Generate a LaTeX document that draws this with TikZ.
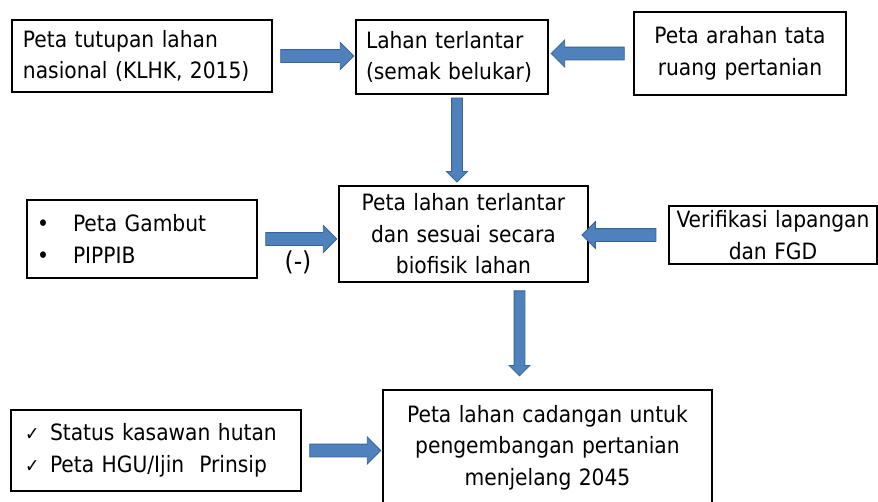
\documentclass[tikz,border=0pt]{standalone}
\usepackage{fontspec}
\setmainfont{DejaVu Sans Condensed}
\usetikzlibrary{positioning,shapes.arrows}
\definecolor{panahisi}{HTML}{4F81BD}
\definecolor{panahtepi}{HTML}{3A6494}
\tikzset{
	kotak/.style={draw=black,line width=1.6pt,fill=white,inner sep=0pt,font=\fontsize{22.5}{31.5}\selectfont},
	teks/.style={inner sep=0pt,font=\fontsize{26}{30}\selectfont},
	panah/.style={single arrow,draw=panahtepi,fill=panahisi,line width=0.8pt,inner xsep=0pt,inner ysep=6pt,single arrow head extend=7pt,minimum height=73pt},
	panahtegak/.style={panah,inner ysep=5pt,single arrow head extend=5pt,minimum height=84pt,rotate=-90},
}
\begin{document}
\begin{tikzpicture}[x=1pt,y=-1pt]
		\useasboundingbox (0,0) rectangle (878,501);
		\node[kotak,minimum width=260pt,minimum height=72pt,text width=238pt,align=left] (tutupan) at (142,56) {Peta tutupan lahan\\nasional (KLHK, 2015)};
		\node[kotak,minimum width=192pt,minimum height=74pt,text width=172pt,align=left] (terlantar) at (452,57) {Lahan terlantar\\(semak belukar)};
		\node[kotak,minimum width=212pt,minimum height=83pt,text width=190pt,align=center] (arahan) at (740,53.5) {Peta arahan tata\\ruang pertanian};
		\node[kotak,minimum width=230pt,minimum height=78pt,text width=210pt,align=left] (gambut) at (142,239) {\makebox[36pt][l]{\textbullet}Peta Gambut\\\makebox[36pt][l]{\textbullet}PIPPIB};
		\node[kotak,minimum width=249pt,minimum height=96pt,text width=240pt,align=center] (biofisik) at (463.5,234) {Peta lahan terlantar\\dan sesuai secara\\biofisik lahan};
		\node[kotak,minimum width=208pt,minimum height=58pt,text width=200pt,align=center] (verifikasi) at (773,235) {Verifikasi lapangan\\dan FGD};
		\node[kotak,minimum width=290pt,minimum height=81pt,text width=262pt,align=left] (cek) at (156,450.5) {\makebox[25pt][l]{\fontsize{19}{19}\selectfont ✓}Status kasawan hutan\\\makebox[25pt][l]{\fontsize{19}{19}\selectfont ✓}Peta HGU/Ijin\ \ Prinsip};
		\node[kotak,minimum width=329pt,minimum height=115pt,text width=320pt,align=center] (cadangan) at (547.5,447.5) {Peta lahan cadangan untuk\\pengembangan pertanian\\menjelang 2045};
		% panah
		\coordinate (t3) at ([xshift=5pt]terlantar.south);
		\coordinate (t6) at ([xshift=56pt]biofisik.south);
		\path (tutupan.east) -- node[panah] (p1) {} (tutupan.east -| terlantar.west);
		\path (arahan.west) -- node[panah,rotate=180] (p2) {} (arahan.west -| terlantar.east);
		\path (t3) -- node[panahtegak,pos=0.47] (p3) {} (t3 |- biofisik.north);
		\path (gambut.east) -- node[panah,minimum height=71pt] (p4) {} (gambut.east -| biofisik.west);
		\path (verifikasi.west) -- node[panah,rotate=180,minimum height=74pt,pos=0.58] (p5) {} (verifikasi.west -| biofisik.east);
		\path (t6) -- node[panahtegak,pos=0.45,minimum height=85pt] (p6) {} (t6 |- cadangan.north);
		\path (cek.east) -- node[panah,minimum height=71pt] (p7) {} (cek.east -| cadangan.west);
		\node[teks,below=12pt of p4.center] (minus) {(-)};
	\end{tikzpicture}
\end{document}
